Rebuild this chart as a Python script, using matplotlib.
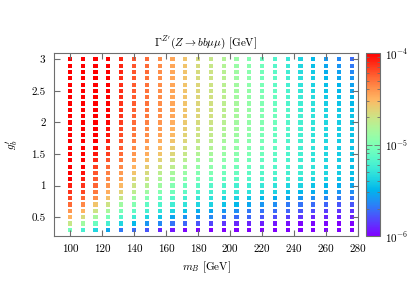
import numpy as np
import matplotlib
matplotlib.use("Agg")
import matplotlib.pyplot as plt
from matplotlib.colors import LogNorm

# ---- data -------------------------------------------------------------
m_B = [100, 108, 116, 124, 132, 140, 148, 156, 164, 172, 180, 188,
       196, 204, 212, 220, 228, 236, 244, 252, 260, 268, 276]
g_b = [3.0, 2.9, 2.8, 2.7, 2.6, 2.5, 2.4, 2.3, 2.2, 2.1, 2.0, 1.9, 1.8, 1.7,
       1.6, 1.5, 1.4, 1.3, 1.2, 1.1, 1.0, 0.9, 0.8, 0.7, 0.6, 0.5, 0.4, 0.3]
# position of each width on the log colour scale (0 -> 1e-6 GeV, 1 -> 1e-4 GeV)
log_pos = [
    [1.15, 1.11, 1.05, 1.00, .95, .89, .86, .81, .77, .72, .67, .64, .60, .55, .51, .46, .41, .36, .31, .26, .21, .18, .14],
    [1.15, 1.11, 1.05, 1.00, .95, .89, .86, .81, .77, .72, .67, .64, .60, .55, .52, .47, .42, .37, .32, .27, .23, .20, .16],
    [1.15, 1.11, 1.05, 1.00, .95, .89, .86, .81, .77, .72, .67, .65, .61, .56, .52, .48, .43, .38, .33, .29, .24, .22, .18],
    [1.15, 1.11, 1.05, 1.00, .94, .89, .85, .81, .77, .72, .67, .65, .61, .56, .53, .48, .44, .39, .34, .30, .26, .23, .20],
    [1.15, 1.11, 1.05, 1.00, .94, .88, .85, .81, .77, .72, .68, .65, .61, .57, .53, .49, .44, .39, .35, .31, .27, .25, .22],
    [1.15, 1.11, 1.05, 1.00, .94, .88, .85, .81, .77, .72, .68, .65, .61, .57, .54, .49, .45, .40, .36, .32, .28, .26, .23],
    [1.15, 1.11, 1.05, 1.00, .94, .88, .85, .81, .77, .72, .68, .66, .62, .57, .54, .50, .46, .41, .37, .33, .29, .27, .25],
    [1.15, 1.11, 1.05, 1.00, .93, .88, .85, .81, .77, .72, .68, .66, .62, .58, .54, .50, .46, .41, .38, .34, .30, .28, .26],
    [1.15, 1.11, 1.05, 1.00, .93, .87, .84, .81, .77, .72, .68, .66, .62, .58, .55, .51, .47, .42, .38, .34, .31, .29, .27],
    [1.15, 1.11, 1.05, 1.00, .93, .87, .84, .81, .77, .72, .68, .66, .62, .58, .55, .51, .47, .42, .39, .35, .32, .30, .28],
    [1.14, 1.10, 1.04, .99, .92, .86, .83, .80, .76, .71, .67, .65, .61, .57, .54, .51, .47, .42, .39, .35, .32, .30, .28],
    [1.14, 1.10, 1.03, .98, .91, .85, .82, .79, .75, .70, .66, .64, .60, .57, .54, .50, .46, .42, .39, .35, .32, .30, .28],
    [1.13, 1.09, 1.02, .97, .90, .84, .81, .78, .74, .69, .65, .63, .59, .56, .53, .49, .46, .41, .39, .35, .32, .30, .28],
    [1.12, 1.08, 1.01, .96, .89, .83, .80, .76, .72, .68, .64, .62, .58, .55, .52, .49, .45, .41, .39, .35, .32, .30, .28],
    [1.11, 1.06, .99, .94, .88, .82, .78, .74, .70, .66, .62, .60, .57, .54, .51, .48, .45, .41, .39, .35, .32, .30, .28],
    [1.09, 1.05, .97, .92, .86, .80, .76, .72, .68, .64, .60, .58, .55, .52, .50, .47, .44, .41, .39, .35, .32, .30, .28],
    [1.08, 1.03, .95, .89, .84, .78, .73, .69, .65, .61, .57, .56, .53, .51, .48, .45, .43, .40, .38, .35, .32, .30, .27],
    [1.05, 1.01, .92, .86, .82, .75, .70, .66, .62, .58, .54, .53, .50, .48, .46, .44, .42, .40, .38, .35, .32, .30, .27],
    [1.03, .98, .89, .83, .79, .72, .67, .62, .58, .55, .51, .50, .47, .46, .44, .42, .41, .39, .38, .35, .32, .30, .27],
    [1.00, .96, .88, .82, .78, .68, .65, .59, .56, .53, .49, .47, .46, .44, .42, .41, .39, .38, .35, .32, .31, .28, .26],
    [.96, .93, .87, .80, .74, .65, .61, .56, .51, .47, .44, .42, .41, .39, .38, .36, .35, .32, .31, .28, .26, .24, .23],
    [.93, .91, .84, .76, .69, .62, .56, .51, .47, .44, .41, .39, .38, .36, .35, .32, .31, .28, .26, .24, .23, .20, .19],
    [.91, .87, .81, .73, .64, .56, .51, .46, .42, .39, .36, .35, .32, .31, .28, .26, .24, .23, .20, .19, .18, .16, .15],
    [.86, .82, .72, .65, .56, .51, .44, .41, .38, .35, .32, .31, .28, .26, .23, .20, .19, .16, .15, .14, .13, .11, .11],
    [.80, .75, .65, .58, .49, .44, .39, .35, .32, .28, .24, .23, .20, .19, .16, .15, .14, .13, .11, .10, .08, .07, .07],
    [.75, .67, .58, .49, .42, .38, .32, .28, .23, .20, .19, .18, .15, .14, .13, .11, .10, .08, .07, .05, .05, .04, .04],
    [.64, .56, .46, .39, .32, .26, .20, .18, .15, .13, .11, .09, .07, .05, .05, .04, .03, .02, .01, .01, .01, .00, .00],
    [.47, .39, .32, .23, .16, .14, .11, .05, .03, .01, .00, -.01, -.02, -.03, -.03, -.04, -.05, -.05, -.06, -.06, -.07, -.07, -.08],
]
x_ticks = [100, 120, 140, 160, 180, 200, 220, 240, 260, 280]
y_ticks = [0.5, 1.0, 1.5, 2.0, 2.5, 3.0]
y_tick_labels = ["0.5", "1", "1.5", "2", "2.5", "3"]
cb_ticks = [1e-6, 1e-5, 1e-4]
cb_tick_labels = [r"$10^{-6}$", r"$10^{-5}$", r"$10^{-4}$"]

# ---- style ------------------------------------------------------------
plt.rcParams.update({
    "font.family": "serif",
    "font.serif": ["cmr10"],
    "mathtext.fontset": "cm",
    "axes.unicode_minus": False,
    "font.size": 8,
})
frame = "#6e6e6e"

fig = plt.figure(figsize=(4.15, 2.9), dpi=100)
ax = fig.add_axes([0.130, 0.186, 0.733, 0.631])

M, G = np.meshgrid(np.array(m_B), np.array(g_b))
W = 10.0 ** (-6.0 + 2.0 * np.array(log_pos))
sc = ax.scatter(M.ravel(), G.ravel(), c=W.ravel(), cmap="rainbow",
                norm=LogNorm(vmin=1e-6, vmax=1e-4), marker="s", s=9,
                linewidths=0)

ax.set_xlim(90, 280)
ax.set_ylim(0.2, 3.1)
ax.set_xticks(x_ticks, labels=[str(v) for v in x_ticks])
ax.set_yticks(y_ticks, labels=y_tick_labels)
ax.tick_params(direction="in", length=4, width=0.8, color=frame,
               top=True, right=True, labelsize=8, pad=6)
for s in ax.spines.values():
    s.set_color(frame)
    s.set_linewidth(0.8)

ax.set_xlabel(r"$m_B$ [GeV]", fontsize=8, labelpad=4)
ax.set_ylabel(r"$g_b'$", fontsize=8, labelpad=8)
ax.set_title(r"$\Gamma^{Z'}(Z \to bb\mu\mu)$ [GeV]", fontsize=8, pad=5)

cax = fig.add_axes([0.882, 0.186, 0.034, 0.631])
cb = fig.colorbar(sc, cax=cax)
cb.set_ticks(cb_ticks, labels=cb_tick_labels)
cax.tick_params(which="both", direction="in", left=True, right=True,
                color=frame, width=0.6, labelsize=8)
cax.tick_params(which="major", length=4)
cax.tick_params(which="minor", length=2)
cb.outline.set_edgecolor(frame)
cb.outline.set_linewidth(0.8)

fig.savefig("out.png", dpi=100)
